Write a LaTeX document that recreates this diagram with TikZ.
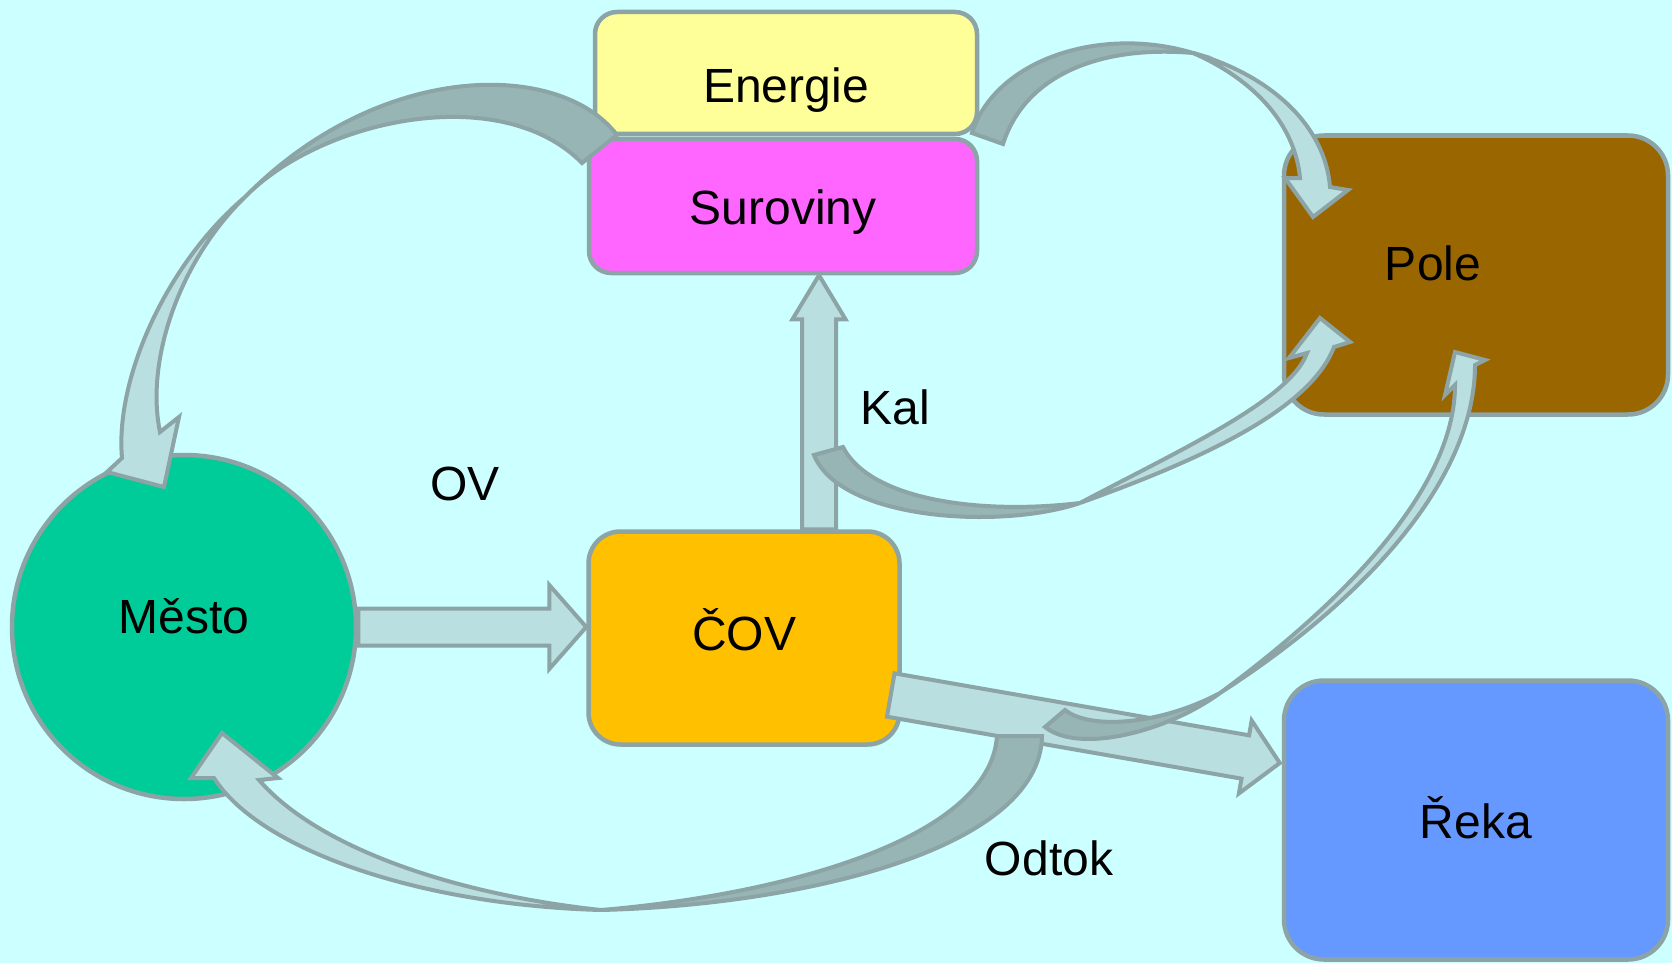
\documentclass[tikz,border=0pt]{standalone}
\usepackage{fontspec}
\setmainfont{Liberation Sans}
\usetikzlibrary{calc}
\definecolor{bgcyan}{HTML}{CCFFFF}
\definecolor{edgegrey}{HTML}{8CA4A5}
\definecolor{flowL}{HTML}{B9DFE1}
\definecolor{flowD}{HTML}{97B5B5}
\definecolor{enyellow}{HTML}{FFFF99}
\definecolor{surpink}{HTML}{FF66FF}
\definecolor{polebrown}{HTML}{996600}
\definecolor{rekablue}{HTML}{6699FF}
\definecolor{covorange}{HTML}{FFC000}
\definecolor{mestogreen}{HTML}{00CC99}

% block arrow: tail, tip, half shaft, half head, head length
\newcommand{\blockarrow}[5]{%
  \coordinate (hb) at ($(#2)!#5!(#1)$);
  \filldraw[flow] ($(#1)!#3!90:(#2)$) -- ($(hb)!#3!90:(#2)$) -- ($(hb)!#4!90:(#2)$)
    -- (#2) -- ($(hb)!#4!-90:(#2)$) -- ($(hb)!#3!-90:(#2)$) -- ($(#1)!#3!-90:(#2)$) -- cycle;
}

\begin{document}
\begin{tikzpicture}[
    x=1pt, y=-1pt,
    font=\fontsize{48}{58}\selectfont,
    box/.style={draw=edgegrey, line width=4.5pt, rounded corners=22pt,
                text height=34pt, text depth=0pt},
    lbl/.style={inner sep=0pt, text height=34pt, text depth=0pt},
    flow/.style={fill=flowL, draw=edgegrey, line width=4pt},
    back/.style={fill=flowD, draw=edgegrey, line width=4pt}
  ]
  \useasboundingbox (0,0) rectangle (1672,963);
  \fill[bgcyan] (0,0) rectangle (1672,963);

  % boxes
  \node[box, fill=enyellow, minimum width=382pt, minimum height=122pt, text height=59pt] (energie) at (786,73) {Energie};
  \node[box, fill=surpink, minimum width=388pt, minimum height=134pt, text height=37pt] (surov) at (783,206) {Suroviny};
  \node[box, fill=polebrown, rounded corners=40pt, minimum width=384pt, minimum height=279pt] (pole) at (1476,275) {};
  \node[box, fill=rekablue, rounded corners=40pt, minimum width=384pt, minimum height=279pt, text height=36pt] (reka) at (1476,820) {Řeka};
  \node[box, fill=covorange, rounded corners=32pt, minimum width=311pt, minimum height=213pt, text height=24pt] (cov) at (744,638) {ČOV};
  \node[box, circle, fill=mestogreen, minimum size=344pt, text height=13pt] (mesto) at (184,627) {Město};
  \node[lbl] (poleT) at (1433,263) {Pole};

  % straight flows
  \coordinate (ovTip) at (cov.west |- mesto.east);
  \coordinate (kalTail) at ($(cov.north)+(75,0)$);
  \coordinate (kalTip) at (kalTail |- surov.south);
  \coordinate (odTail) at ($(cov.east)+(-11,57)$);
  \coordinate (odTip) at ($(reka.west)+(-2,-57)$);
  \blockarrow{mesto.east}{ovTip}{18.5pt}{42pt}{37pt}
  \blockarrow{kalTail}{kalTip}{17pt}{26.5pt}{44pt}
  \blockarrow{odTail}{odTip}{22pt}{37pt}{35pt}

  % Suroviny -> Mesto
  \filldraw[back] (617,135) .. controls (560,60) and (380,60) .. (245,197)
    .. controls (320,120) and (500,80) .. (582,163) -- cycle;
  \filldraw[flow] (245,197) .. controls (180,260) and (145,360) .. (160,432)
    -- (179,417) -- (164,487) -- (107,472) -- (122,458)
    .. controls (115,380) and (165,265) .. (245,197) -- cycle;

  % Energie -> Pole
  \filldraw[back] (972,133) .. controls (995,60) and (1100,25) .. (1193,53)
    .. controls (1100,45) and (1025,75) .. (1003,144) -- cycle;
  \filldraw[flow] (1193,53) .. controls (1270,75) and (1325,125) .. (1330,187)
    -- (1348,190) -- (1313,217) -- (1285,178) -- (1300,178)
    .. controls (1295,125) and (1255,80) .. (1193,53) -- cycle;

  % Kal -> Pole
  \filldraw[back] (814,455) .. controls (840,520) and (1000,530) .. (1080,503)
    .. controls (980,515) and (870,500) .. (843,447) -- cycle;
  \filldraw[flow] (1080,503) .. controls (1200,460) and (1310,410) .. (1334,347)
    -- (1350,342) -- (1320,318) -- (1289,358) -- (1307,353)
    .. controls (1290,400) and (1180,450) .. (1080,503) -- cycle;

  % Odtok -> Pole
  \filldraw[back] (1045,727) .. controls (1080,755) and (1170,730) .. (1220,693)
    .. controls (1160,725) and (1090,730) .. (1065,710) -- cycle;
  \filldraw[flow] (1220,693) .. controls (1380,590) and (1475,470) .. (1475,365)
    -- (1485,360) -- (1455,352) -- (1445,395) -- (1455,385)
    .. controls (1455,480) and (1360,590) .. (1220,693) -- cycle;

  % Odtok -> Mesto
  \filldraw[back] (1042,736) .. controls (1040,850) and (800,905) .. (601,910)
    .. controls (780,895) and (990,840) .. (997,736) -- cycle;
  \filldraw[flow] (601,910) .. controls (460,895) and (320,850) .. (259,780)
    -- (278,778) -- (222,733) -- (191,778) -- (214,778)
    .. controls (260,850) and (420,905) .. (601,910) -- cycle;

  % labels
  \node[lbl] (ov) at (465,483) {OV};
  \node[lbl] (kal) at (895,407) {Kal};
  \node[lbl] (odtok) at (1049,858) {Odtok};
\end{tikzpicture}
\end{document}
